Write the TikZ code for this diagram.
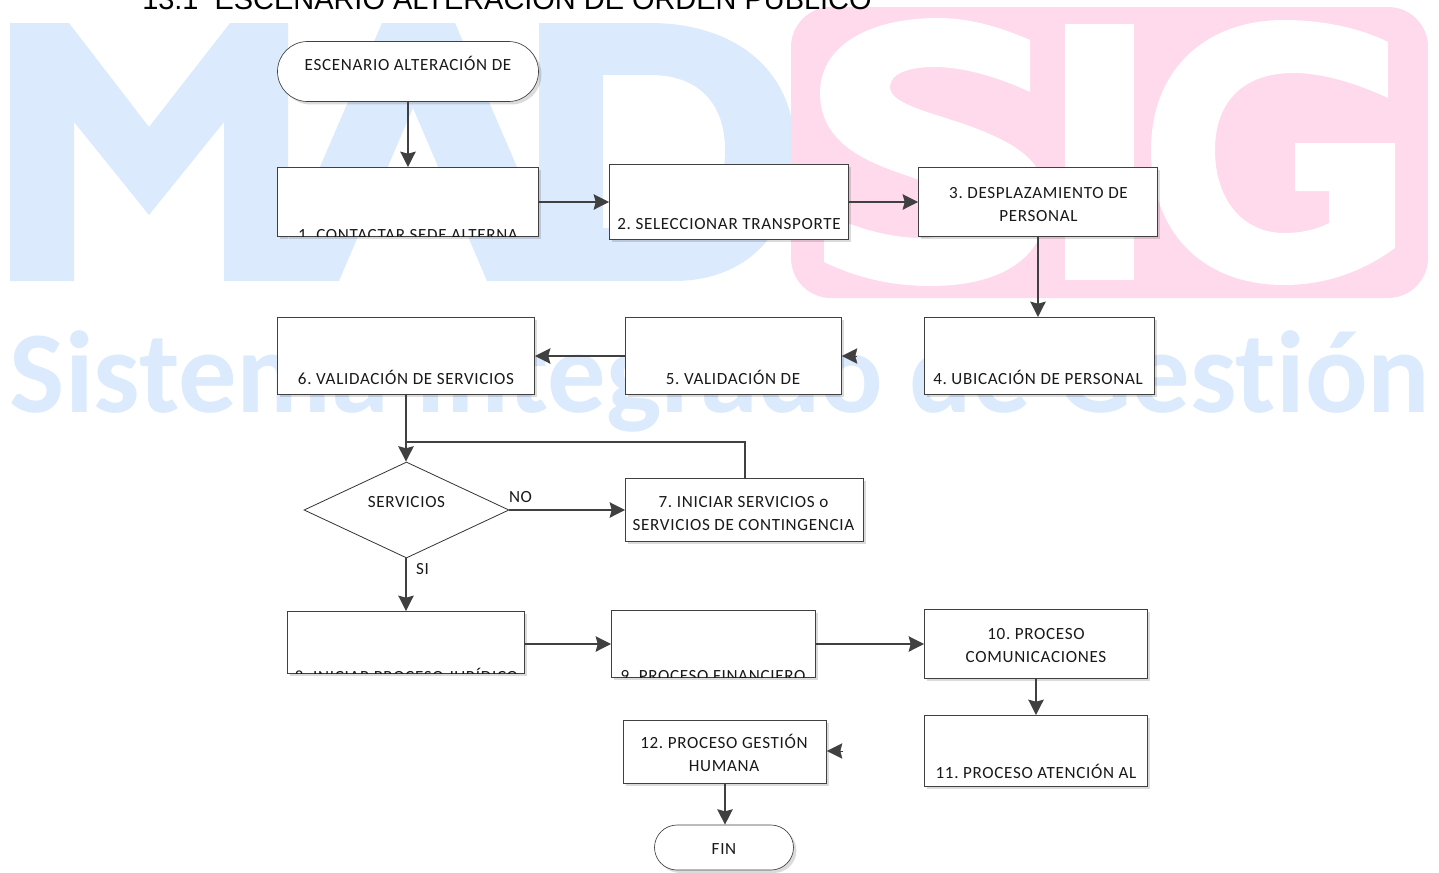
\documentclass[tikz,border=0pt]{standalone}
\usepackage{fontspec}
\setmainfont{Carlito}
\newfontfamily\arialf{Liberation Sans}
\newfontfamily\lblf[LetterSpace=4]{Carlito}
\newfontfamily\wmf[Ligatures=NoCommon]{Carlito Bold}
\usetikzlibrary{arrows.meta,shapes.geometric,shapes.misc,shadows}
\definecolor{wblue}{HTML}{DBEAFD}
\definecolor{wpink}{HTML}{FFD9EC}
\definecolor{ln}{HTML}{404040}
\def\pxu{0.75pt}
\frenchspacing
\tikzset{
  boxst/.style={draw=ln,line width=0.7pt,fill=white,inner sep=0pt,
    drop shadow={shadow xshift=2.2pt,shadow yshift=-2.2pt,fill=black,opacity=.14}},
  termst/.style={boxst,line width=0.5pt,shape=rounded rectangle,rounded rectangle arc length=180},
  lbl/.style={font=\lblf\fontsize{12.8}{17.25}\selectfont,align=center,inner sep=0pt,text=black!90},
  arr/.style={draw=ln,line width=1.6pt,-{Stealth[length=11.5pt,width=11.5pt,inset=1.5pt]}},
  plainln/.style={draw=ln,line width=1.6pt},
  decst/.style={draw=black!80,line width=0.6pt,fill=white,inner sep=0pt,shape=diamond}
}
% name x1 y1 x2 y2 textx texty text
\newcommand{\flowbox}[8]{%
  \node[boxst,minimum width={(#4-#2)*\pxu},minimum height={(#5-#3)*\pxu}] (#1) at ({(#2+#4)/2-0.5},{(#3+#5)/2-0.5}) {};
  \begin{scope}
    \clip (#1.south west) rectangle (#1.north east);
    \node[lbl] (#1t) at (#6,#7) {#8};
  \end{scope}
}
\begin{document}
\begin{tikzpicture}[x=0.75pt,y=-0.75pt]
\useasboundingbox (0,0) rectangle (1439,872);
\clip (0,0) rectangle (1439,872);
% watermark: MAD
\fill[wblue] (10,23) -- (69,23) -- (149,127) -- (230,23) -- (288,23) -- (288,241)
  -- (382,23) -- (455,23) -- (539,218) -- (539,23) -- (650,23)
  .. controls (735,23) and (795,70) .. (795,150)
  .. controls (795,235) and (745,281) .. (674,281)
  -- (487,281) -- (413,108) -- (339,281) -- (224,281) -- (224,122) -- (149,215)
  -- (74,122) -- (74,281) -- (10,281) -- cycle;
\fill[white] (603,75) -- (650,75)
  .. controls (700,75) and (725,105) .. (725,150)
  .. controls (725,200) and (700,228) .. (650,228) -- (603,228) -- cycle;
% watermark: pink block with SIG
\fill[wpink,rounded corners=30pt] (791,7) rectangle (1428,298);
\fill[white] (1065,24) rectangle (1134,280);
\fill[white] (1030,40) .. controls (1000,27) and (970,18) .. (938,18)
  .. controls (870,18) and (820,45) .. (820,93)
  .. controls (820,140) and (860,160) .. (905,175)
  .. controls (940,187) and (959,195) .. (959,210)
  .. controls (959,228) and (945,238) .. (922,238)
  .. controls (890,238) and (855,228) .. (824,213)
  -- (824,262)
  .. controls (855,277) and (890,286) .. (930,286)
  .. controls (1005,286) and (1047,255) .. (1047,203)
  .. controls (1047,160) and (1013,143) .. (975,128)
  .. controls (935,113) and (890,105) .. (890,87)
  .. controls (890,73) and (910,67) .. (934,67)
  .. controls (965,67) and (1000,78) .. (1030,92) -- cycle;
\fill[white] (1388,42) .. controls (1360,28) and (1322,20) .. (1284,20)
  .. controls (1205,20) and (1151,70) .. (1151,150)
  .. controls (1151,235) and (1205,285) .. (1284,285)
  .. controls (1328,285) and (1365,270) .. (1395,248)
  -- (1395,143) -- (1295,143) -- (1295,191) -- (1329,191) -- (1329,223)
  .. controls (1318,229) and (1302,233) .. (1284,233)
  .. controls (1243,233) and (1215,200) .. (1215,150)
  .. controls (1215,100) and (1245,73) .. (1293,73)
  .. controls (1325,73) and (1360,85) .. (1388,98) -- cycle;
\node[inner sep=0pt,anchor=center,text=wblue] (wm) at (720,381)
  {\resizebox{1065pt}{!}{\wmf\fontsize{85}{90}\selectfont Sistema Integrado de Gest\kern0pt ión}};
% title
\node[anchor=base west,inner sep=0pt,font=\arialf\fontsize{21.7}{24}\selectfont] (title) at (142,9)
  {13.1 \ ESCENARIO ALTERACIÓN DE ORDEN PÚBLICO};
% nodes
\node[termst,minimum width={261*\pxu},minimum height={60*\pxu}] (n0) at (408,71.5) {};
\node[lbl] (n0t) at (408,63.5) {ESCENARIO ALTERACIÓN DE};
\flowbox{n1}{278}{168}{539}{237}{408}{235.5}{1. CONTACTAR SEDE ALTERNA}
\flowbox{n2}{610}{165}{849}{240}{729}{224.5}{2. SELECCIONAR TRANSPORTE}
\flowbox{n3}{919}{168}{1158}{237}{1038.5}{205}{3. DESPLAZAMIENTO DE\\PERSONAL}
\flowbox{n4}{925}{318}{1155}{395}{1038}{377.5}{4. UBICACIÓN DE PERSONAL}
\flowbox{n5}{626}{318}{842}{395}{733}{377.5}{5. VALIDACIÓN DE}
\flowbox{n6}{278}{318}{535}{395}{406}{377.5}{6. VALIDACIÓN DE SERVICIOS}
\node[decst,minimum width={205*\pxu},minimum height={96*\pxu},aspect=2.13] (d) at (406.5,510) {};
\node[lbl] (dt) at (406.5,502.5) {SERVICIOS};
\flowbox{n7}{626}{479}{864}{542}{743.5}{513.5}{7. INICIAR SERVICIOS o\\SERVICIOS DE CONTINGENCIA}
\flowbox{n8}{288}{612}{525}{674}{406.5}{675}{8. INICIAR PROCESO JURÍDICO}
\flowbox{n9}{612}{611}{816}{678}{713}{676}{9. PROCESO FINANCIERO}
\flowbox{n10}{925}{610}{1148}{679}{1036}{646}{10. PROCESO\\COMUNICACIONES}
\flowbox{n11}{925}{716}{1148}{787}{1036}{771.5}{11. PROCESO ATENCIÓN AL}
\flowbox{n12}{624}{721}{827}{784}{724}{753}{12. PROCESO GESTIÓN\\HUMANA}
\node[termst,minimum width={139*\pxu},minimum height={45*\pxu}] (fin) at (724,847.5) {};
\node[lbl] (fint) at (724,849.5) {FIN};
% connectors
\draw[arr] (n0.south) -- (n0.south |- n1.north);
\draw[arr] (n1.east) -- (n2.west |- n1.east);
\draw[arr] (n2.east) -- (n3.west |- n2.east);
\draw[arr] (n3.south) -- (n3.south |- n4.north);
\coordinate (from4) at (857,356);
\draw[arr,line width=0.3pt] (from4) -- (n5.east |- from4);
\draw[arr] (n5.west) -- (n6.east |- n5.west);
\draw[arr] (n6.south) -- (n6.south |- d.north);
\coordinate (join) at (406,442);
\coordinate (n7top) at (745,479);
\draw[plainln] (n7top) |- (join);
\draw[arr] (d.east) -- (n7.west |- d.east);
\draw[arr] (n6.south |- d.south) -- (n6.south |- n8.north);
\draw[arr] (n8.east |- n9.west) -- (n9.west);
\draw[arr] (n9.east) -- (n10.west |- n9.east);
\draw[arr] (n10.south) -- (n10.south |- n11.north);
\coordinate (from11) at (843,751);
\draw[arr,line width=0.3pt] (from11) -- (n12.east |- from11);
\draw[arr] (n12.south) -- (n12.south |- fin.north);
% branch labels
\node[lbl] (no) at (520.5,497.5) {NO};
\node[lbl] (si) at (422.5,569.5) {SI};
\end{tikzpicture}
\end{document}
